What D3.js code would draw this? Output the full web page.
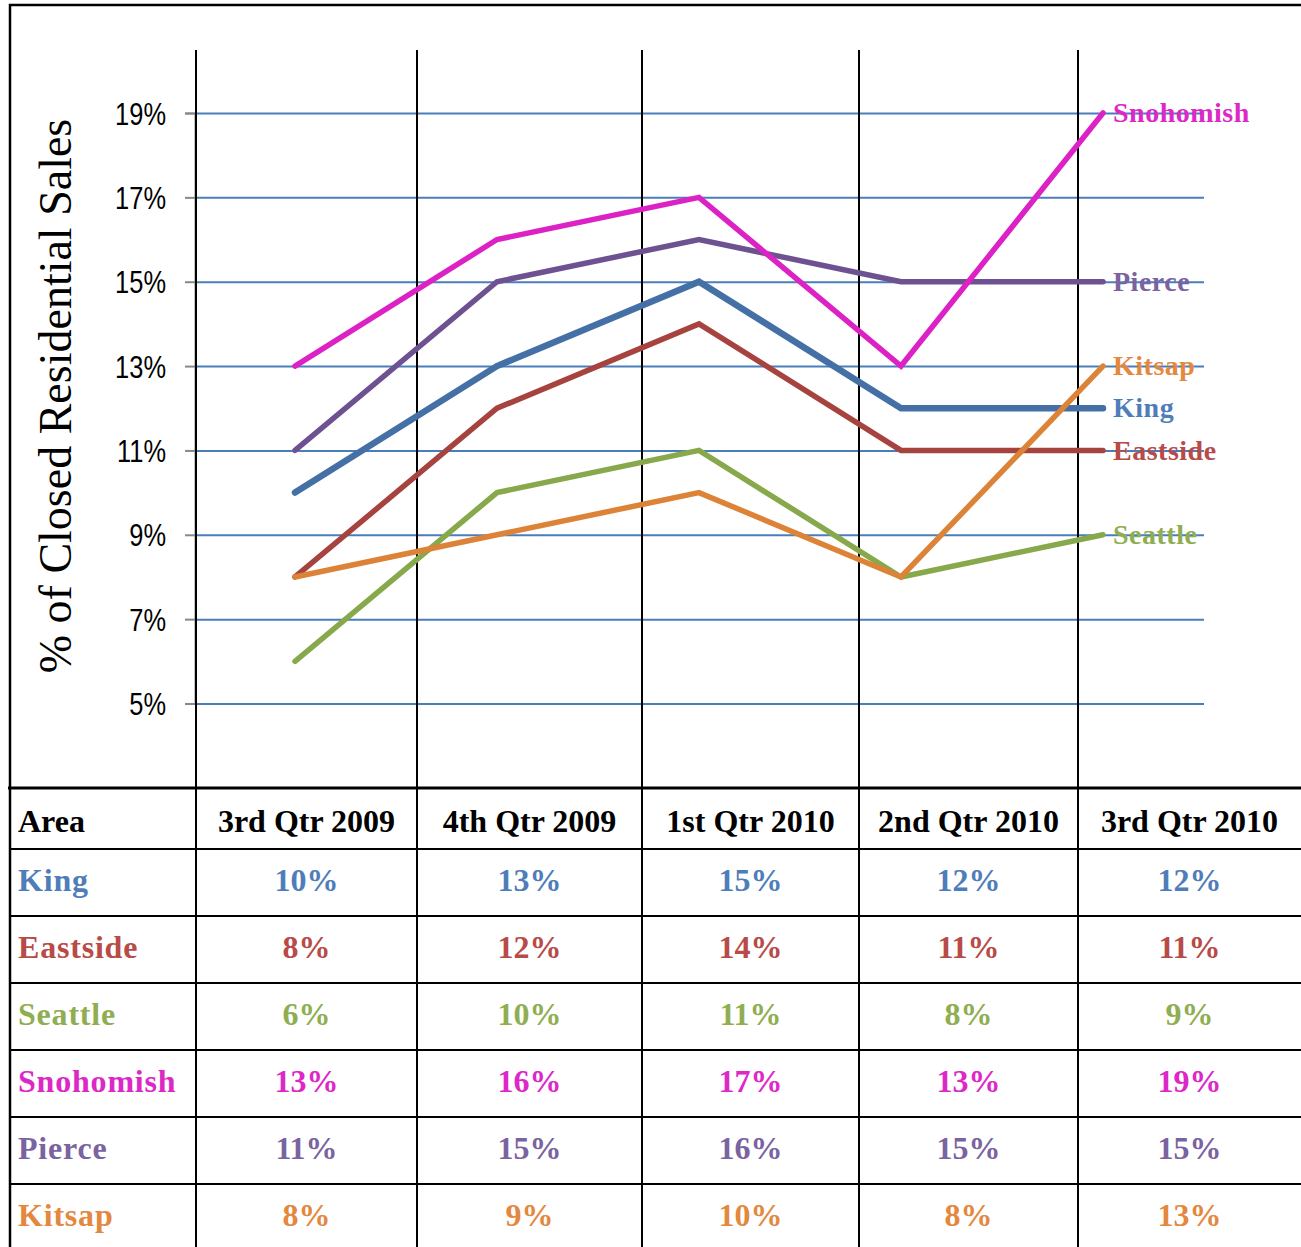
<!DOCTYPE html>
<html>
<head>
<meta charset="utf-8">
<script src="https://cdn.jsdelivr.net/npm/d3@7"></script>
<style>
  body { margin: 0; background: #fff; }
  svg { display: block; }
</style>
</head>
<body>
<script>
// data
const quarters = ["3rd Qtr 2009", "4th Qtr 2009", "1st Qtr 2010", "2nd Qtr 2010", "3rd Qtr 2010"];
const areas = ["King", "Eastside", "Seattle", "Snohomish", "Pierce", "Kitsap"];
const king = [10, 13, 15, 12, 12];
const eastside = [8, 12, 14, 11, 11];
const seattle = [6, 10, 11, 8, 9];
const snohomish = [13, 16, 17, 13, 19];
const pierce = [11, 15, 16, 15, 15];
const kitsap = [8, 9, 10, 8, 13];
const yTicks = [5, 7, 9, 11, 13, 15, 17, 19];

const values = { King: king, Eastside: eastside, Seattle: seattle, Snohomish: snohomish, Pierce: pierce, Kitsap: kitsap };
const lineColor = { King: "#4470a6", Eastside: "#a6433f", Seattle: "#87a84b", Snohomish: "#dd22c5", Pierce: "#6e5191", Kitsap: "#dc8338" };
const textColor = { King: "#4f7dba", Eastside: "#b84a47", Seattle: "#8fae52", Snohomish: "#dd28c8", Pierce: "#7b62a0", Kitsap: "#e3883e" };
const drawOrder = ["King", "Eastside", "Seattle", "Pierce", "Snohomish", "Kitsap"];

const W = 1301, H = 1247;
const serif = "'Liberation Serif', 'Times New Roman', serif";

let svg = d3.select("body").append("svg")
    .attr("width", W)
    .attr("height", H);

// scales
let x = d3.scalePoint().domain(quarters).range([295, 1103]);
let y = d3.scaleLinear().domain([5, 19]).range([703.5, 113]);

// table column edges and rows
let colX = [10, 196, 417, 642, 859, 1078, 1301];
let headerTop = 788, rowTop = 849, rowH = 67;

// gridlines
svg.append("g")
    .attr("transform", "translate(195,0)")
    .call(d3.axisRight(y).tickValues(yTicks).tickSize(1009).tickFormat(""))
    .call(g => g.select(".domain").remove())
    .selectAll("line")
    .attr("stroke", "#4a7ebb")
    .attr("stroke-width", 2);

// y axis
let yAxis = svg.append("g")
    .attr("transform", "translate(195,0)")
    .call(d3.axisLeft(y).tickValues(yTicks).tickSize(10).tickPadding(19).tickFormat(d => d + "%"));
yAxis.select(".domain").attr("stroke", "#888").attr("stroke-width", 2);
yAxis.selectAll("line").attr("stroke", "#888").attr("stroke-width", 2);
yAxis.selectAll("text")
    .attr("fill", "#000")
    .style("font-family", "'Liberation Sans Narrow', 'Arial Narrow', sans-serif")
    .style("font-size", "31px")
    .attr("dy", "0.36em")
    .each(function () {
        // squeeze to a narrow, Calibri-like width
        let len = this.getComputedTextLength();
        d3.select(this).attr("textLength", len * 0.82).attr("lengthAdjust", "spacingAndGlyphs");
    });

// y title
svg.append("text")
    .attr("transform", "translate(71,396) rotate(-90)")
    .attr("text-anchor", "middle")
    .style("font-family", serif)
    .style("font-size", "46px")
    .attr("fill", "#000")
    .text("% of Closed Residential Sales");

// column lines through the chart and table
svg.selectAll(".vline")
    .data(colX.slice(1, 6))
    .enter().append("line")
    .attr("x1", d => d).attr("x2", d => d)
    .attr("y1", 50).attr("y2", H)
    .attr("stroke", "#000")
    .attr("stroke-width", 2);

// outer border
svg.append("path")
    .attr("d", "M10," + H + "V5H" + W)
    .attr("fill", "none")
    .attr("stroke", "#000")
    .attr("stroke-width", 2.5);

// series lines
let line = d3.line()
    .x((d, i) => x(quarters[i]))
    .y(d => y(d));

svg.selectAll(".series")
    .data(drawOrder)
    .enter().append("path")
    .attr("class", "series")
    .attr("d", a => line(values[a]))
    .attr("fill", "none")
    .attr("stroke", a => lineColor[a])
    .attr("stroke-width", a => a === "King" ? 6.5 : 5.5)
    .attr("stroke-linecap", "round")
    .attr("stroke-linejoin", "miter");

// end labels
svg.selectAll(".endlabel")
    .data(areas)
    .enter().append("text")
    .attr("x", x(quarters[4]) + 10)
    .attr("y", a => y(values[a][4]))
    .attr("dy", "0.33em")
    .style("font-family", serif)
    .style("font-size", "28px")
    .style("font-weight", "bold")
    .style("letter-spacing", "0.5px")
    .attr("fill", a => textColor[a])
    .text(a => a);

// table horizontal lines
svg.append("line")
    .attr("x1", 8).attr("x2", W)
    .attr("y1", headerTop).attr("y2", headerTop)
    .attr("stroke", "#000").attr("stroke-width", 3);

svg.selectAll(".hline")
    .data(d3.range(areas.length))
    .enter().append("line")
    .attr("x1", 10).attr("x2", W)
    .attr("y1", i => rowTop + i * rowH).attr("y2", i => rowTop + i * rowH)
    .attr("stroke", "#000").attr("stroke-width", 2);

// header row
let colCenter = i => (colX[i + 1] + colX[i + 2]) / 2;

svg.append("text")
    .attr("x", 18).attr("y", headerTop + 44)
    .style("font-family", serif).style("font-size", "32px").style("font-weight", "bold")
    .attr("fill", "#000")
    .text("Area");

svg.selectAll(".qhead")
    .data(quarters)
    .enter().append("text")
    .attr("x", (d, i) => colCenter(i))
    .attr("y", headerTop + 44)
    .attr("text-anchor", "middle")
    .style("font-family", serif).style("font-size", "32px").style("font-weight", "bold")
    .attr("fill", "#000")
    .text(d => d);

// body rows
let rows = svg.selectAll(".row")
    .data(areas)
    .enter().append("g")
    .attr("transform", (a, i) => "translate(0," + (rowTop + i * rowH + 42) + ")")
    .style("font-family", serif).style("font-size", "32px").style("font-weight", "bold")
    .attr("fill", a => textColor[a]);

rows.append("text")
    .attr("x", 18)
    .style("letter-spacing", "0.8px")
    .text(a => a);

rows.selectAll(".val")
    .data(a => values[a])
    .enter().append("text")
    .attr("x", (d, i) => colCenter(i))
    .attr("text-anchor", "middle")
    .text(d => d + "%");
</script>
</body>
</html>
